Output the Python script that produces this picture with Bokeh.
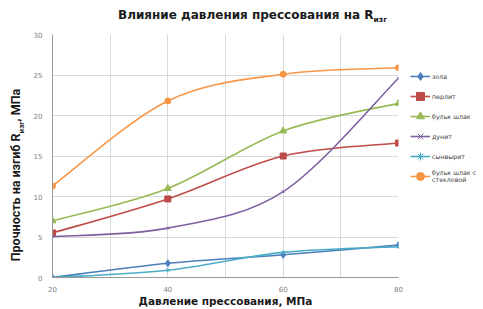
import numpy as np
from bokeh.plotting import figure
from bokeh.layouts import column, row
from bokeh.models import (Range1d, FixedTicker, SingleIntervalTicker, Div,
                          Legend, LegendItem, ColumnDataSource)
from bokeh.embed import file_html
from bokeh.resources import INLINE

# ---- data ----
pressure = [20, 40, 60, 80]
zola = [0.0, 1.75, 2.8, 4.0]
perlit = [5.5, 9.7, 15.0, 16.6]
bulk_shlak = [7.0, 11.0, 18.1, 21.5]
dunit = [5.05, 6.1, 10.6, 24.6]
synvyrit = [0.0, 0.9, 3.1, 3.8]
bulk_steklo = [11.3, 21.8, 25.1, 25.9]
series_names = ["зола", "перлит", "бульк шлак", "дунит", "сынвырит", "бульк шлак с\nстекловой"]
x_ticks = [20, 40, 60, 80]
y_ticks = [0, 5, 10, 15, 20, 25, 30]

series = [zola, perlit, bulk_shlak, dunit, synvyrit, bulk_steklo]
colors = ["#4A7EBB", "#BE4B48", "#98B954", "#7D60A0", "#4BACC6", "#F79646"]
markers = ["diamond", "square", "triangle", "x", "asterisk", "circle"]
msizes = [7, 6, 7, 4, 4, 6]


def smooth_segments(xs, ys):
    """Bezier control points (Catmull-Rom style) for a smoothed line."""
    xs = np.asarray(xs, float)
    ys = np.asarray(ys, float)
    n = len(xs)
    px = np.concatenate([[xs[0]], xs, [xs[-1]]])
    py = np.concatenate([[ys[0]], ys, [ys[-1]]])
    d = {k: [] for k in ["x0", "y0", "x1", "y1", "cx0", "cy0", "cx1", "cy1"]}
    for i in range(n - 1):
        j = i + 1
        d["x0"].append(px[j]); d["y0"].append(py[j])
        d["x1"].append(px[j + 1]); d["y1"].append(py[j + 1])
        d["cx0"].append(px[j] + (px[j + 1] - px[j - 1]) / 6)
        d["cy0"].append(py[j] + (py[j + 1] - py[j - 1]) / 6)
        d["cx1"].append(px[j + 1] - (px[j + 2] - px[j]) / 6)
        d["cy1"].append(py[j + 1] - (py[j + 2] - py[j]) / 6)
    return ColumnDataSource(d)


p = figure(width=380, height=281, output_backend="svg", toolbar_location=None,
           x_range=Range1d(20, 80), y_range=Range1d(0, 30),
           min_border_left=19, min_border_right=12, min_border_top=6,
           min_border_bottom=24, margin=0)
p.outline_line_color = None
p.background_fill_color = "white"
p.border_fill_color = "white"

# axes
p.xaxis.ticker = FixedTicker(ticks=x_ticks)
p.yaxis.ticker = FixedTicker(ticks=y_ticks)
p.xgrid.ticker = SingleIntervalTicker(interval=10)
for ax in (p.xaxis[0], p.yaxis[0]):
    ax.axis_line_color = "#9a9a9a"
    ax.major_tick_line_color = None
    ax.minor_tick_line_color = None
    ax.major_label_text_font = "DejaVu Sans"
    ax.major_label_text_font_size = "7px"
    ax.major_label_text_color = "#808080"
p.yaxis.major_label_standoff = 4
p.xaxis.major_label_standoff = 2
p.xgrid.grid_line_color = "#d9d9d9"
p.ygrid.grid_line_color = "#d9d9d9"

p.xaxis.axis_label = "Давление прессования, МПа"
p.xaxis.axis_label_text_font = "DejaVu Sans"
p.xaxis.axis_label_text_font_style = "bold"
p.xaxis.axis_label_text_font_size = "10.5px"
p.xaxis.axis_label_text_color = "#1a1a1a"
p.xaxis.axis_label_standoff = 0

for ys, c, m, s in zip(series, colors, markers, msizes):
    src = smooth_segments(pressure, ys)
    p.bezier(x0="x0", y0="y0", x1="x1", y1="y1", cx0="cx0", cy0="cy0",
             cx1="cx1", cy1="cy1", source=src, line_color=c, line_width=1.6)
    p.scatter(pressure, ys, marker=m, size=s, fill_color=c, line_color=c)

# ---- legend in its own small panel (frame covers the whole panel);
#      its renderers hold the series but lie outside this panel's view ----
lg = figure(width=73, height=281, output_backend="svg", toolbar_location=None,
            x_range=Range1d(-1000, -999), y_range=Range1d(-1000, -999),
            min_border=0, x_axis_type=None, y_axis_type=None, margin=0)
lg.outline_line_color = None
lg.xgrid.visible = False
lg.ygrid.visible = False
items = []
for name, ys, c, m, s in zip(series_names, series, colors, markers, msizes):
    r1 = lg.line(pressure, ys, line_color=c, line_width=1.6)
    r2 = lg.scatter(pressure, ys, marker=m, size=s, fill_color=c, line_color=c)
    items.append(LegendItem(label=name, renderers=[r1, r2]))
legend = Legend(items=items, location=(0, 91), padding=0, margin=0,
                spacing=0, glyph_width=20, glyph_height=20, label_height=20,
                label_standoff=2, label_text_font="DejaVu Sans",
                label_text_font_size="6.3px", label_text_color="#404040",
                background_fill_alpha=0, border_line_color=None)
lg.add_layout(legend, "center")

title = Div(
    text=('<div style="position:absolute; left:118px; top:7px; white-space:nowrap; '
          'font-family:\'DejaVu Sans\'; font-weight:bold; font-size:12px; color:#1a1a1a;">'
          'Влияние давления прессования на R'
          '<sub style="font-size:7.5px;">изг</sub></div>'),
    width=483, height=28, margin=0)

ylabel = Div(
    text=('<div style="position:absolute; left:17px; top:147px; white-space:nowrap; '
          'transform:translate(-50%,-50%) rotate(-90deg); '
          'font-family:Roboto; font-weight:bold; font-size:12.5px; color:#1a1a1a;">'
          'Прочность на изгиб R<sub style="font-size:8px;">изг</sub>, МПа</div>'),
    width=30, height=281, margin=0)

layout = column(title, row(ylabel, p, lg, spacing=0, margin=0), spacing=0, margin=0)

open("out.html", "w").write(file_html(layout, INLINE))
